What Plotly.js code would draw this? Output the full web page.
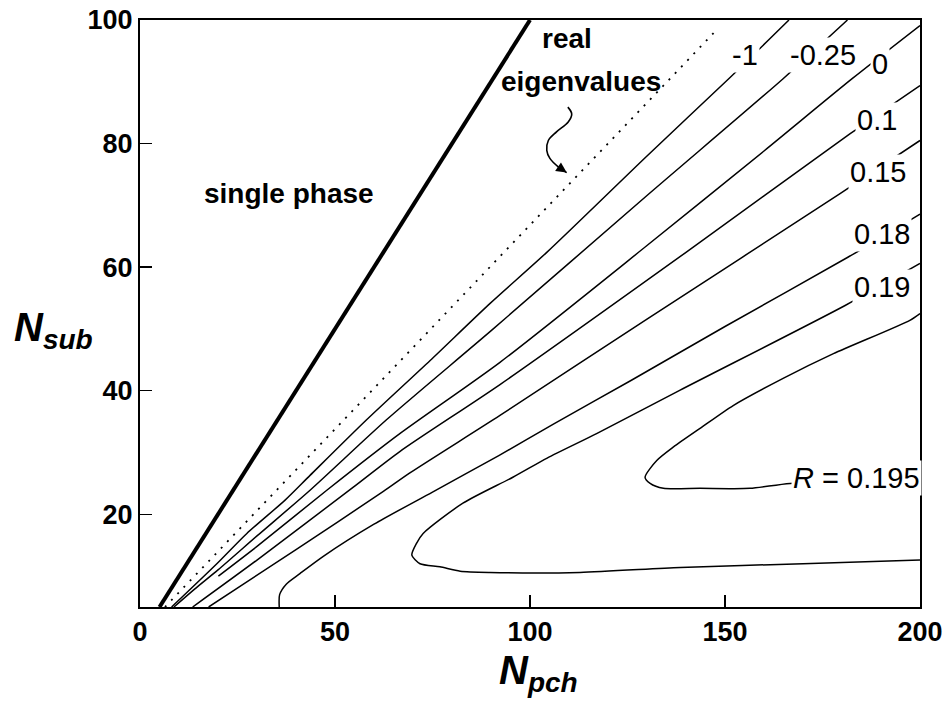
<!DOCTYPE html>
<html>
<head>
<meta charset="utf-8">
<script src="https://cdn.plot.ly/plotly-3.0.1.min.js"></script>
<style>
  html, body { margin: 0; padding: 0; background: #fff; }
  #chart { width: 950px; height: 727px; }
</style>
</head>
<body>
<div id="chart"></div>
<script>
// Stability map in the (N_pch, N_sub) plane: single-phase boundary,
// real-eigenvalue boundary and iso-lines of the decay ratio R.

// single-phase boundary (N_sub = N_pch)
const singleX = [5, 100];
const singleY = [5, 100];

// boundary of the real-eigenvalue region
const realEigX = [6.4, 148];
const realEigY = [5, 98.5];

// iso-lines of R
const rNeg1X = [8.1, 19.7, 27.4, 37.2, 43.6, 58.1, 74.4, 89.7, 104.3, 130, 151.3, 166.4];
const rNeg1Y = [5, 12.0, 16.9, 22.3, 26.3, 35.3, 44.9, 54.1, 62.4, 78.0, 90.7, 100];

const rNeg025X = [8.7, 14, 20, 30, 43.6, 63.2, 90.2, 130, 164.9, 181.4];
const rNeg025Y = [5, 7.9, 11.0, 16.5, 23.9, 35.3, 49.8, 71.6, 90.5, 100];

const r0X = [20.1, 30, 47.9, 66.7, 92.3, 130, 160, 182.6, 200];
const r0Y = [10.0, 14.8, 23.9, 33.1, 44.6, 63.5, 78.8, 90.5, 99.1];

const r010X = [13.5, 30, 54.7, 66.7, 92.3, 140, 182.1, 200];
const r010Y = [5, 12.6, 24.4, 30.2, 41.0, 62.4, 81.6, 89.4];

const r015X = [17.6, 40, 62.4, 69.2, 92.3, 130, 179.5, 200];
const r015Y = [5, 14.3, 23.7, 26.7, 36.0, 51.6, 71.9, 80.5];

const r018X = [35.7, 35.8, 37.5, 41, 47, 60, 75, 92, 106, 126, 150, 181.5, 200];
const r018Y = [5, 7, 8.7, 10.4, 13.2, 18.4, 23.6, 29.5, 34.6, 41.7, 50.4, 61.6, 68.6];

const r019X = [200, 180.8, 138.5, 117.2, 104.4, 95.6, 82.8, 72.6, 70.9, 69.7, 71.8, 76.9, 82.1, 89.7, 112.8, 138.5, 170, 200];
const r019Y = [60.6, 53.8, 40.1, 33.1, 29.1, 26.0, 21.8, 16.9, 15.3, 13.4, 12.0, 11.5, 10.8, 10.6, 10.6, 11.4, 12.0, 12.6];

const r0195X = [200, 197.4, 177.8, 164.9, 152.1, 143.6, 136.8, 132.5, 129.5, 130.8, 134.2, 143.6, 156.4, 166.7, 200];
const r0195Y = [52.5, 51.4, 46.0, 42.0, 37.6, 33.9, 30.9, 28.7, 26.0, 25.0, 24.2, 24.2, 24.2, 25.0, 25.5];

// inline level labels: text and anchor point
const levelText = ['-1', '-0.25', '0', '0.1', '0.15', '0.18', '0.19', '<i>R</i> = 0.195'];
const levelX = [155.1, 175.2, 189.7, 188.9, 189.3, 190.2, 190.2, 183.8];
const levelY = [94.3, 94.3, 92.8, 83.8, 75.4, 65.4, 56.8, 25.8];

// curved pointer from the "real eigenvalues" note to its boundary
const pointerX = [109.7, 110.7, 109.8, 106.8, 104.7, 104.3, 105.1, 107.3, 109.4];
const pointerY = [85.9, 84.8, 83.5, 81.9, 80.5, 78.9, 77.6, 76.2, 75.3];

// axes
const xTicks = [0, 50, 100, 150, 200];
const yTicks = [20, 40, 60, 80, 100];

const FONT = 'Liberation Sans, Arial, Helvetica, sans-serif';

function isoLine(x, y) {
  return {
    x: x, y: y, type: 'scatter', mode: 'lines',
    line: { color: '#000', width: 1.5, shape: 'spline', smoothing: 0.7 },
    hoverinfo: 'skip', showlegend: false
  };
}

const traces = [
  { x: singleX, y: singleY, type: 'scatter', mode: 'lines',
    line: { color: '#000', width: 4 }, hoverinfo: 'skip' },
  { x: realEigX, y: realEigY, type: 'scatter', mode: 'lines',
    line: { color: '#000', width: 1.8, dash: '2px,7px' }, hoverinfo: 'skip' },
  isoLine(rNeg1X, rNeg1Y),
  isoLine(rNeg025X, rNeg025Y),
  isoLine(r0X, r0Y),
  isoLine(r010X, r010Y),
  isoLine(r015X, r015Y),
  isoLine(r018X, r018Y),
  isoLine(r019X, r019Y),
  isoLine(r0195X, r0195Y),
  { x: pointerX, y: pointerY, type: 'scatter', mode: 'lines',
    line: { color: '#000', width: 1.6, shape: 'spline', smoothing: 1 }, hoverinfo: 'skip' }
];

const annotations = levelText.map((t, i) => ({
  x: levelX[i], y: levelY[i], xref: 'x', yref: 'y',
  text: t, showarrow: false, bgcolor: '#fff', borderpad: 1,
  font: { family: FONT, size: 29, color: '#000' }
}));

const boldNote = { family: FONT, size: 28, color: '#000', weight: 'bold' };

annotations.push(
  { x: 38.2, y: 71.9, xref: 'x', yref: 'y', text: 'single phase', showarrow: false, font: boldNote },
  { x: 109.4, y: 97.0, xref: 'x', yref: 'y', text: 'real', showarrow: false, font: boldNote },
  { x: 113.0, y: 90.1, xref: 'x', yref: 'y', text: 'eigenvalues', showarrow: false, font: boldNote },
  // arrowhead at the end of the curved pointer
  { x: pointerX[pointerX.length - 1], y: pointerY[pointerY.length - 1], xref: 'x', yref: 'y',
    ax: pointerX[pointerX.length - 2], ay: pointerY[pointerY.length - 2], axref: 'x', ayref: 'y',
    text: '', showarrow: true, arrowhead: 2, arrowsize: 1.3, arrowwidth: 1.6, arrowcolor: '#000' },
  // axis titles
  { x: -0.164, y: 0.472, xref: 'paper', yref: 'paper', xanchor: 'left', yanchor: 'middle',
    text: '<b><i>N<sub>sub</sub></i></b>', showarrow: false,
    font: { family: FONT, size: 40, color: '#000' } },
  { x: 0.4577, y: -0.113, xref: 'paper', yref: 'paper', xanchor: 'left', yanchor: 'middle',
    text: '<b><i>N<sub>pch</sub></i></b>', showarrow: false,
    font: { family: FONT, size: 40, color: '#000' } }
);

const axisCommon = {
  ticks: 'inside', ticklen: 12, tickwidth: 1.5, tickcolor: '#000',
  showline: true, linewidth: 2, linecolor: '#000', mirror: true,
  showgrid: false, zeroline: false, fixedrange: true,
  tickfont: { family: FONT, size: 27, color: '#000', weight: 'bold' }
};

const layout = {
  width: 950, height: 727,
  margin: { l: 140, r: 30, t: 20, b: 120 },
  paper_bgcolor: '#fff', plot_bgcolor: '#fff',
  showlegend: false,
  xaxis: Object.assign({}, axisCommon, { range: [0, 200], tickvals: xTicks, ticktext: xTicks.map(String) }),
  yaxis: Object.assign({}, axisCommon, { range: [5, 100], tickvals: yTicks, ticktext: yTicks.map(String) }),
  annotations: annotations
};

Plotly.newPlot('chart', traces, layout, { staticPlot: true, displayModeBar: false });
</script>
</body>
</html>
